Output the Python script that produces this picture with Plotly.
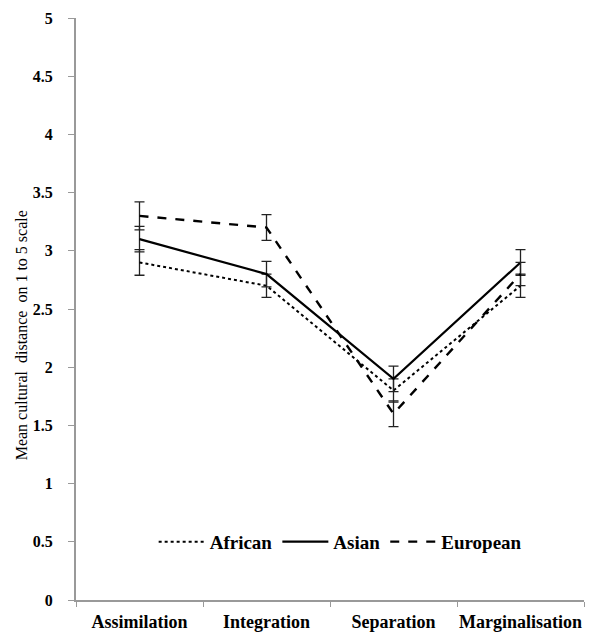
import plotly.graph_objects as go

categories = ["Assimilation", "Integration", "Separation", "Marginalisation"]
african = [2.9, 2.7, 1.8, 2.7]
african_err = [0.11, 0.1, 0.1, 0.1]
asian = [3.1, 2.8, 1.9, 2.9]
asian_err = [0.11, 0.11, 0.11, 0.11]
european = [3.3, 3.2, 1.6, 2.8]
european_err = [0.12, 0.11, 0.11, 0.1]
y_ticks = [0, 0.5, 1, 1.5, 2, 2.5, 3, 3.5, 4, 4.5, 5]
y_title = "Mean cultural  distance  on 1 to 5 scale"

fig = go.Figure()
series = [
    ("African", african, african_err, "dot", 2),
    ("Asian", asian, asian_err, "solid", 2.2),
    ("European", european, european_err, "dash", 2.4),
]
for name, vals, err, dash, w in series:
    fig.add_trace(go.Scatter(
        x=categories, y=vals, name=name, mode="lines",
        line=dict(color="black", dash=dash, width=w),
        error_y=dict(type="data", array=err, visible=True, color="#222", thickness=1.3, width=5),
    ))

font_family = "Liberation Serif, Times New Roman, serif"
fig.update_layout(
    width=600, height=634,
    margin=dict(l=68, r=24, t=10, b=42, autoexpand=False),
    plot_bgcolor="white", paper_bgcolor="white",
    font=dict(family=font_family, color="black", size=14),
    showlegend=True,
    legend=dict(orientation="h", x=0.52, y=0.10, xanchor="center", yanchor="middle",
                font=dict(family=font_family, size=19, color="black", weight="bold"),
                itemwidth=46, bgcolor="rgba(0,0,0,0)", tracegroupgap=0),
    xaxis=dict(type="category", range=[-0.5, 3.5], tickson="boundaries", ticks="outside",
               ticklen=5, tickcolor="#999", showline=True, linecolor="#999", linewidth=2,
               showgrid=False, automargin=False, ticklabelstandoff=4, tickangle=0,
               tickfont=dict(family=font_family, size=18, weight="bold")),
    yaxis=dict(range=[0, 5], tickvals=y_ticks, ticktext=[str(v) for v in y_ticks],
               ticks="outside", ticklen=6, tickcolor="#999", showline=True, linecolor="#999",
               linewidth=2, showgrid=False, zeroline=False, automargin=False,
               ticklabelstandoff=12,
               tickfont=dict(family=font_family, size=16, weight="bold")),
    annotations=[dict(text=y_title, xref="paper", yref="paper", x=-0.108, y=0.455,
                      xanchor="center", yanchor="middle", textangle=-90, showarrow=False,
                      font=dict(family=font_family, size=16, color="black"))],
)
fig.write_html("out.html")
